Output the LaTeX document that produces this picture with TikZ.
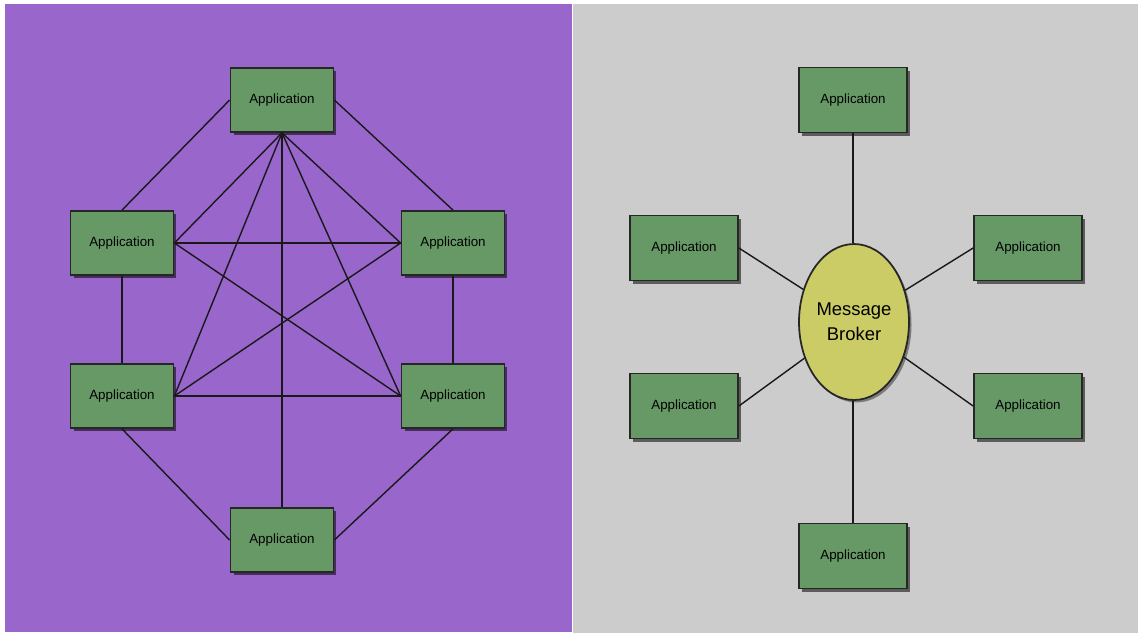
\documentclass[tikz,border=0pt]{standalone}
\usepackage{fontspec}
\setmainfont{Liberation Sans}
\usetikzlibrary{shapes.geometric,shadows}
\definecolor{meshbg}{HTML}{9966CC}
\definecolor{brokerbg}{HTML}{CCCCCC}
\definecolor{appgreen}{HTML}{669966}
\definecolor{brokeryellow}{HTML}{CCCC66}
\tikzset{
  app/.style={draw=black!85,line width=1pt,fill=appgreen,
    minimum width=2.06cm,minimum height=1.28cm,inner sep=0pt,
    font=\fontsize{7.6}{9}\selectfont,
    drop shadow={shadow xshift=0.06cm,shadow yshift=-0.06cm,fill=black,opacity=0.55}},
  wideapp/.style={app,minimum width=2.16cm,minimum height=1.3cm},
  link/.style={line width=0.8pt,black!90}
}

\begin{document}
\begin{tikzpicture}[x=0.02cm,y=-0.02cm]
  \useasboundingbox (0,0) rectangle (1138,633);
  \fill[meshbg] (5,4) rectangle (572,632);
  \fill[brokerbg] (573,4) rectangle (1138,633);

  % point-to-point mesh
  \node[app] (mtop) at (282,100) {Application};
  \node[app] (mul) at (122,243) {Application};
  \node[app] (mur) at (453,243) {Application};
  \node[app] (mll) at (122,396) {Application};
  \node[app] (mlr) at (453,396) {Application};
  \node[app] (mbot) at (282,540) {Application};

  \draw[link] (mtop.west)--(mul.north);
  \draw[link] (mtop.east)--(mur.north);
  \draw[link] (mul.south)--(mll.north);
  \draw[link] (mur.south)--(mlr.north);
  \draw[link] (mll.south)--(mbot.west);
  \draw[link] (mlr.south)--(mbot.east);
  \foreach \n in {mul,mll}
    \draw[link] (mtop.south)--(\n.east);
  \foreach \n in {mur,mlr}
    \draw[link] (mtop.south)--(\n.west);
  \draw[link] (mtop.south)--(mbot.north);
  \draw[link] (mul.east)--(mur.west);
  \draw[link] (mul.east)--(mlr.west);
  \draw[link] (mur.west)--(mll.east);
  \draw[link] (mll.east)--(mlr.west);

  % hub and spoke
  \node[ellipse,draw=black!85,line width=1pt,fill=brokeryellow,
        minimum width=2.2cm,minimum height=3.12cm,inner sep=0pt,
        align=center,font=\fontsize{10.5}{14}\selectfont,
        drop shadow={shadow xshift=0.05cm,shadow yshift=-0.05cm,fill=black,opacity=0.4}]
    (broker) at (854,322) {Message\\Broker};
  \node[wideapp] (btop) at (853,100) {Application};
  \node[wideapp] (bul) at (684,248) {Application};
  \node[wideapp] (bur) at (1028,248) {Application};
  \node[wideapp] (bll) at (684,406) {Application};
  \node[wideapp] (blr) at (1028,406) {Application};
  \node[wideapp] (bbot) at (853,556) {Application};

  \draw[link] (btop.south)--(btop.south |- broker.north);
  \draw[link] (bbot.north)--(bbot.north |- broker.south);
  \draw[link] (bul.east)--(broker);
  \draw[link] (bll.east)--(broker);
  \draw[link] (bur.west)--(broker);
  \draw[link] (blr.west)--(broker);
\end{tikzpicture}
\end{document}
